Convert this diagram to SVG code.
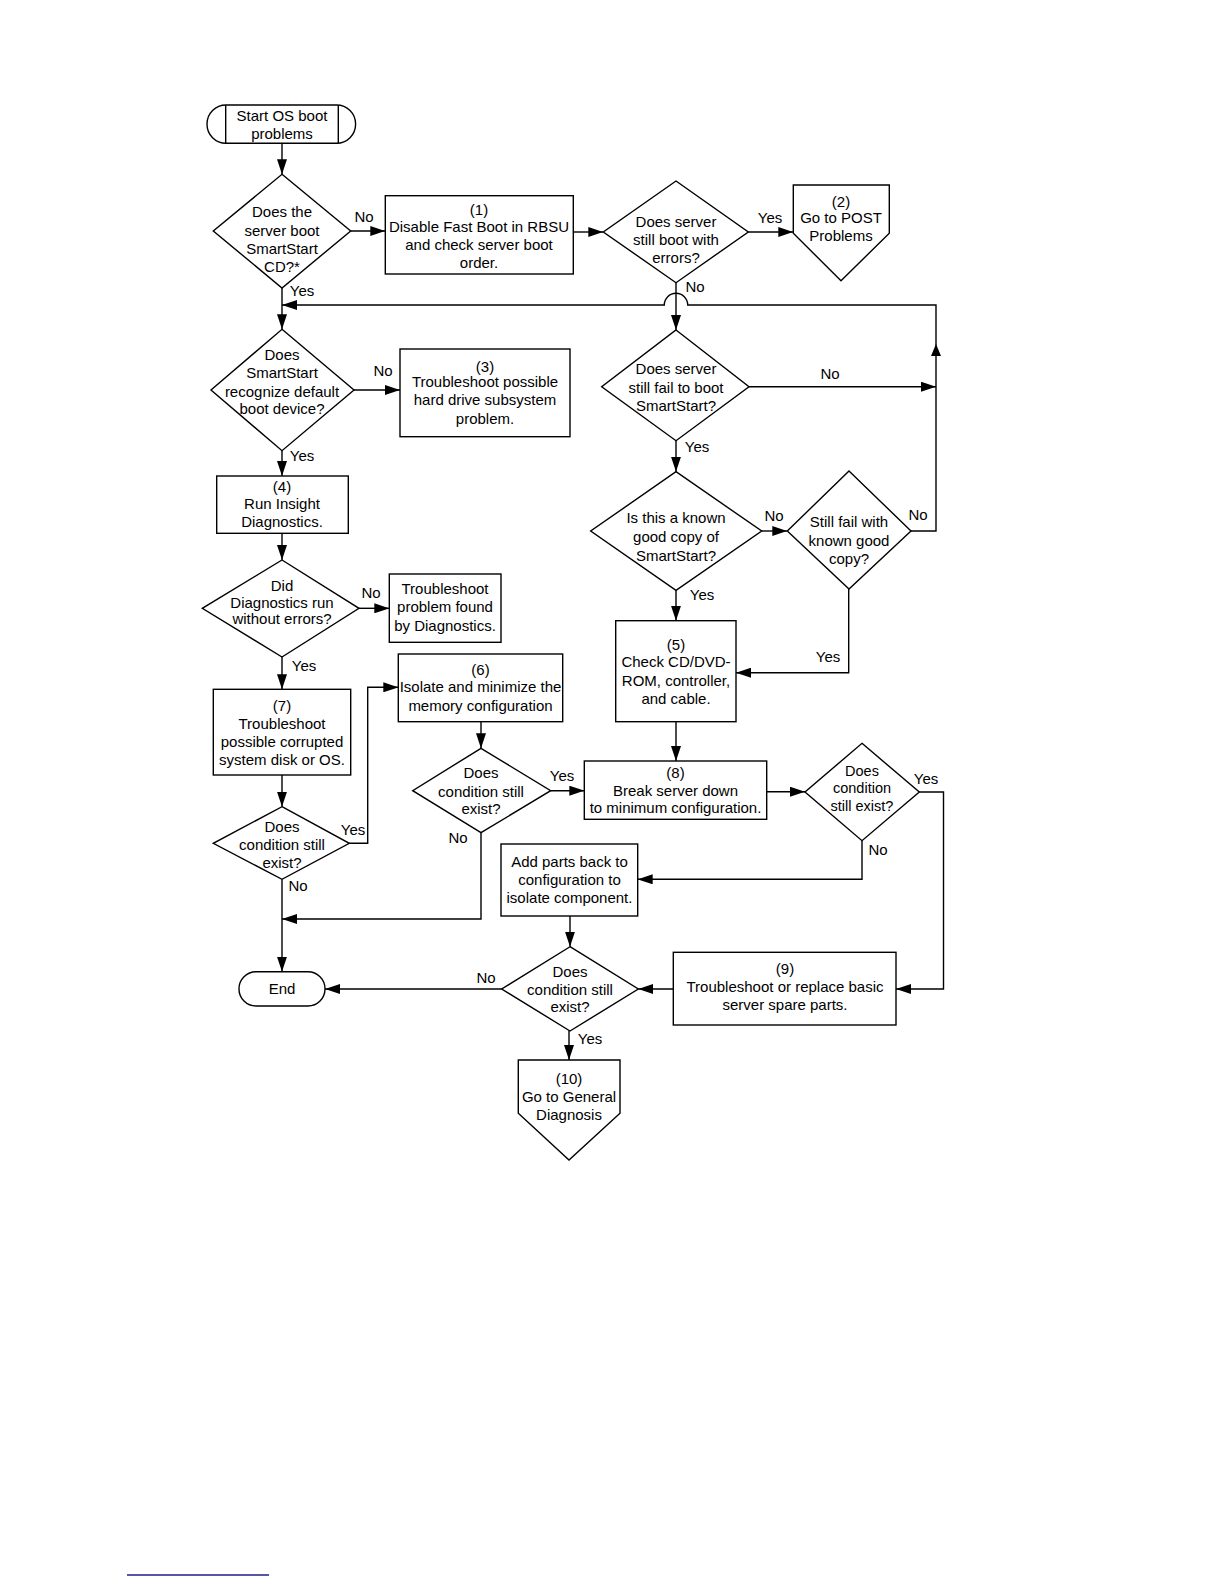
<svg xmlns="http://www.w3.org/2000/svg" width="1224" height="1584" viewBox="0 0 1224 1584">
<style>
.n{fill:#fff;stroke:#000;stroke-width:1.4}
.c{fill:none;stroke:#000;stroke-width:1.4}
.ah{fill:#000;stroke:none}
text{font-family:"Liberation Sans",Arial,sans-serif;font-size:15px;text-anchor:middle;fill:#000}
.s{font-size:14.5px}
</style>
<defs>
<marker id="a" markerUnits="userSpaceOnUse" markerWidth="15" markerHeight="10" refX="15" refY="5" orient="auto">
<path d="M0,0 L15,5 L0,10 z" fill="#000"/>
</marker>
</defs>
<rect width="1224" height="1584" fill="#fff"/>

<g id="connectors">
<path class="c" marker-end="url(#a)" d="M282,143.3 V174.3"/>
<path class="c" marker-end="url(#a)" d="M350.7,231 H385.3"/>
<path class="c" marker-end="url(#a)" d="M573.3,232 H603.3"/>
<path class="c" marker-end="url(#a)" d="M748.3,232 H793.3"/>
<path class="c" marker-end="url(#a)" d="M676,282.7 V330"/>
<path class="c" marker-end="url(#a)" d="M282,288 V329.3"/>
<path class="c" marker-end="url(#a)" d="M911,531 H936 V305 H687.7 A11.7,11.7 0 0 0 664.3,305 H282"/>
<polygon class="ah" points="936,344 931,356 941,356"/>
<path class="c" marker-end="url(#a)" d="M749,386.7 H936"/>
<path class="c" marker-end="url(#a)" d="M676,440.7 V471.7"/>
<path class="c" marker-end="url(#a)" d="M761.7,531 H787.3"/>
<path class="c" marker-end="url(#a)" d="M676,590.3 V620.7"/>
<path class="c" marker-end="url(#a)" d="M848.7,589 V672.7 H736"/>
<path class="c" marker-end="url(#a)" d="M354,390 H400"/>
<path class="c" marker-end="url(#a)" d="M282,450.7 V476"/>
<path class="c" marker-end="url(#a)" d="M282,533.3 V560"/>
<path class="c" marker-end="url(#a)" d="M359,608.3 H389.3"/>
<path class="c" marker-end="url(#a)" d="M282,657 V689.3"/>
<path class="c" marker-end="url(#a)" d="M282,775 V806.7"/>
<path class="c" marker-end="url(#a)" d="M349.3,843.3 H367.7 V687.3 H398.3"/>
<path class="c" marker-end="url(#a)" d="M481,721.7 V748.3"/>
<path class="c" marker-end="url(#a)" d="M550.7,790.7 H584.3"/>
<path class="c" marker-end="url(#a)" d="M481,832.7 V919 H282"/>
<path class="c" marker-end="url(#a)" d="M282,879.3 V971.7"/>
<path class="c" marker-end="url(#a)" d="M676,721.7 V761"/>
<path class="c" marker-end="url(#a)" d="M766.7,791.7 H805"/>
<path class="c" marker-end="url(#a)" d="M919.3,792 H943.5 V989 H896"/>
<path class="c" marker-end="url(#a)" d="M862,840.7 V879.3 H637.7"/>
<path class="c" marker-end="url(#a)" d="M570,916 V946.7"/>
<path class="c" marker-end="url(#a)" d="M673.3,989 H638.3"/>
<path class="c" marker-end="url(#a)" d="M501.7,989 H325"/>
<path class="c" marker-end="url(#a)" d="M569,1031 V1060"/>
<text x="364" y="222">No</text>
<text x="770" y="223">Yes</text>
<text x="695" y="292">No</text>
<text x="302" y="296">Yes</text>
<text x="918" y="520">No</text>
<text x="830" y="379">No</text>
<text x="697" y="452">Yes</text>
<text x="774" y="521">No</text>
<text x="702" y="600">Yes</text>
<text x="828" y="662">Yes</text>
<text x="383" y="376">No</text>
<text x="302" y="461">Yes</text>
<text x="371" y="598">No</text>
<text x="304" y="671">Yes</text>
<text x="353" y="835">Yes</text>
<text x="562" y="781">Yes</text>
<text x="458" y="843">No</text>
<text x="298" y="891">No</text>
<text x="926" y="784">Yes</text>
<text x="878" y="855">No</text>
<text x="486" y="983">No</text>
<text x="590" y="1044">Yes</text>
</g>

<g id="start">
<rect class="n" x="207" y="105" width="148.6" height="38.3" rx="19"/>
<line class="c" x1="225.7" y1="105" x2="225.7" y2="143.3"/>
<line class="c" x1="338.3" y1="105" x2="338.3" y2="143.3"/>
<text x="282" y="120.5">Start OS boot</text>
<text x="282" y="139">problems</text>
</g>

<g id="d1">
<polygon class="n" points="282,174.3 350.7,231 282,288 213.3,231"/>
<text x="282" y="217">Does the</text>
<text x="282" y="235.5">server boot</text>
<text x="282" y="254">SmartStart</text>
<text x="282" y="272">CD?*</text>
</g>

<g id="box1">
<rect class="n" x="385.3" y="195.7" width="188" height="78.3"/>
<text x="479" y="215">(1)</text>
<text x="479" y="231.5">Disable Fast Boot in RBSU</text>
<text x="479" y="250">and check server boot</text>
<text x="479" y="268">order.</text>
</g>

<g id="d2">
<polygon class="n" points="676,181 748.3,232 676,282.7 603.3,232"/>
<text x="676" y="226.5">Does server</text>
<text x="676" y="245">still boot with</text>
<text x="676" y="263">errors?</text>
</g>

<g id="box2">
<polygon class="n" points="793.3,185 889.3,185 889.3,233.3 841,280.7 793.3,233.3"/>
<text x="841" y="206.5">(2)</text>
<text x="841" y="222.5">Go to POST</text>
<text x="841" y="240.5">Problems</text>
</g>

<g id="d3">
<polygon class="n" points="282,329.3 354,390 282,450.7 211,390"/>
<text x="282" y="360">Does</text>
<text x="282" y="378">SmartStart</text>
<text x="282" y="396.5">recognize default</text>
<text x="282" y="414">boot device?</text>
</g>

<g id="box3">
<rect class="n" x="400" y="349" width="170" height="87.7"/>
<text x="485" y="371.5">(3)</text>
<text x="485" y="387">Troubleshoot possible</text>
<text x="485" y="405">hard drive subsystem</text>
<text x="485" y="424">problem.</text>
</g>

<g id="d4">
<polygon class="n" points="676,330 749,386.7 676,440.7 601.7,386.7"/>
<text x="676" y="374">Does server</text>
<text x="676" y="392.5">still fail to boot</text>
<text x="676" y="411">SmartStart?</text>
</g>

<g id="d5">
<polygon class="n" points="676,471.7 761.7,531 676,590.3 590.7,531"/>
<text x="676" y="523">Is this a known</text>
<text x="676" y="542">good copy of</text>
<text x="676" y="560.5">SmartStart?</text>
</g>

<g id="d6">
<polygon class="n" points="849,471 911,531 849,589 787.3,531"/>
<text x="849" y="527">Still fail with</text>
<text x="849" y="545.5">known good</text>
<text x="849" y="564">copy?</text>
</g>

<g id="box4">
<rect class="n" x="216.7" y="476" width="131.6" height="57.3"/>
<text x="282" y="491.5">(4)</text>
<text x="282" y="509">Run Insight</text>
<text x="282" y="526.5">Diagnostics.</text>
</g>

<g id="d7">
<polygon class="n" points="282,560 359,608.3 282,657 202.3,608.3"/>
<text x="282" y="591">Did</text>
<text x="282" y="607.5">Diagnostics run</text>
<text x="282" y="624">without errors?</text>
</g>

<g id="boxDiag">
<rect class="n" x="389.3" y="574" width="111.7" height="68.3"/>
<text x="445" y="594">Troubleshoot</text>
<text x="445" y="612">problem found</text>
<text x="445" y="631">by Diagnostics.</text>
</g>

<g id="box5">
<rect class="n" x="615.7" y="620.7" width="120.3" height="101"/>
<text x="676" y="650">(5)</text>
<text x="676" y="667">Check CD/DVD-</text>
<text x="676" y="686">ROM, controller,</text>
<text x="676" y="704">and cable.</text>
</g>

<g id="box7">
<rect class="n" x="213.3" y="689.3" width="137.4" height="85.7"/>
<text x="282" y="710.5">(7)</text>
<text x="282" y="729">Troubleshoot</text>
<text x="282" y="747">possible corrupted</text>
<text x="282" y="765">system disk or OS.</text>
</g>

<g id="box6">
<rect class="n" x="398.3" y="654" width="164.4" height="67.7"/>
<text x="480.5" y="675">(6)</text>
<text x="480.5" y="692">Isolate and minimize the</text>
<text x="480.5" y="710.5">memory configuration</text>
</g>

<g id="d8">
<polygon class="n" points="282,806.7 349.3,843.3 282,879.3 213.3,843.3"/>
<text x="282" y="831.5">Does</text>
<text x="282" y="850">condition still</text>
<text x="282" y="867.5">exist?</text>
</g>

<g id="d9">
<polygon class="n" points="481,748.3 550.7,790.7 481,832.7 412.7,790.7"/>
<text x="481" y="778">Does</text>
<text x="481" y="796.5">condition still</text>
<text x="481" y="814">exist?</text>
</g>

<g id="box8">
<rect class="n" x="584.3" y="761" width="182.4" height="58.3"/>
<text x="675.5" y="778">(8)</text>
<text x="675.5" y="795.5">Break server down</text>
<text x="675.5" y="813">to minimum configuration.</text>
</g>

<g id="d10">
<polygon class="n" points="862,743.3 919.3,792 862,840.7 805,792"/>
<text class="s" x="862" y="775.5">Does</text>
<text class="s" x="862" y="793">condition</text>
<text class="s" x="862" y="811">still exist?</text>
</g>

<g id="boxAdd">
<rect class="n" x="501" y="844" width="136.7" height="72"/>
<text x="569.5" y="866.5">Add parts back to</text>
<text x="569.5" y="885">configuration to</text>
<text x="569.5" y="903">isolate component.</text>
</g>

<g id="d11">
<polygon class="n" points="570,946.7 638.3,989 570,1031 501.7,989"/>
<text x="570" y="976.5">Does</text>
<text x="570" y="995">condition still</text>
<text x="570" y="1012">exist?</text>
</g>

<g id="box9">
<rect class="n" x="673.3" y="952.3" width="222.7" height="72.7"/>
<text x="785" y="974">(9)</text>
<text x="785" y="992">Troubleshoot or replace basic</text>
<text x="785" y="1010">server spare parts.</text>
</g>

<g id="end">
<rect class="n" x="239" y="971.7" width="86" height="34.3" rx="17"/>
<text x="282" y="994">End</text>
</g>

<g id="box10">
<polygon class="n" points="518.3,1060 620,1060 620,1113.3 569,1160 518.3,1113.3"/>
<text x="569" y="1084">(10)</text>
<text x="569" y="1101.5">Go to General</text>
<text x="569" y="1120">Diagnosis</text>
</g>

<line x1="127" y1="1575" x2="269" y2="1575" stroke="#1c1c8c" stroke-width="1.4"/>
</svg>
